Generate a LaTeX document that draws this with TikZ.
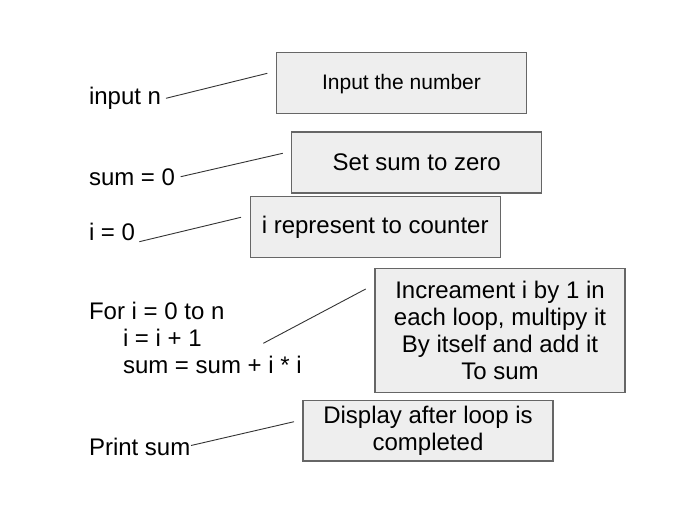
\documentclass[tikz,border=0pt]{standalone}
\usepackage{fontspec}
\setmainfont{Liberation Sans}
\definecolor{boxfill}{HTML}{EEEEEE}
\definecolor{boxline}{HTML}{666666}
\definecolor{conline}{HTML}{333333}
\tikzset{
  lbl/.style={anchor=base west, inner sep=0pt, outer sep=0pt, font=\fontsize{24}{26.7}\selectfont},
  notebox/.style={draw=boxline, line width=1.1pt, fill=boxfill, inner sep=0pt, outer sep=0pt,
    minimum width=250pt, minimum height=61pt, align=center, font=\fontsize{24}{27}\selectfont},
  conn/.style={draw=conline, line width=0.9pt}
}
\begin{document}
\begin{tikzpicture}[x=1pt,y=-1pt]
\useasboundingbox (0,0) rectangle (687,524);
% left labels
\node[lbl] (tin) at (89,105) {input n};
\node[lbl] (tsum) at (89,185.7) {sum = 0};
\node[lbl] (ti) at (89,240) {i = 0};
\node[lbl, align=left] (tfor) at (89,373.3) {For i = 0 to n\\\hspace*{34pt}i = i + 1\\\hspace*{34pt}sum = sum + i * i};
\node[lbl] (tprint) at (89,455) {Print sum};
% boxes
\node[notebox, font=\fontsize{21}{24}\selectfont, text depth=2pt] (b1) at (401.5,83) {Input the number};
\node[notebox] (b2) at (416.7,162.5) {Set sum to zero};
\node[notebox, text depth=3pt] (b3) at (375.2,226.7) {i represent to counter};
\node[notebox, minimum height=124.4pt] (b4) at (500,330.5) {Increament i by 1 in\\each loop, multipy it\\By itself and add it\\To sum};
\node[notebox, minimum height=60.3pt] (b5) at (428,430.8) {Display after loop is\\completed};
% connector ends
\coordinate (c1a) at (166,98.3);   \coordinate (c1b) at (267.3,73.3);
\coordinate (c2a) at (180.7,176.7); \coordinate (c2b) at (282.7,153.3);
\coordinate (c3a) at (139.3,241.7); \coordinate (c3b) at (241,217.3);
\coordinate (c4a) at (263.3,343.3); \coordinate (c4b) at (365.7,289);
\coordinate (c5a) at (191,445.5);   \coordinate (c5b) at (294,421.7);
\draw[conn] (c1a) -- (c1b);
\draw[conn] (c2a) -- (c2b);
\draw[conn] (c3a) -- (c3b);
\draw[conn] (c4a) -- (c4b);
\draw[conn] (c5a) -- (c5b);
\end{tikzpicture}
\end{document}
